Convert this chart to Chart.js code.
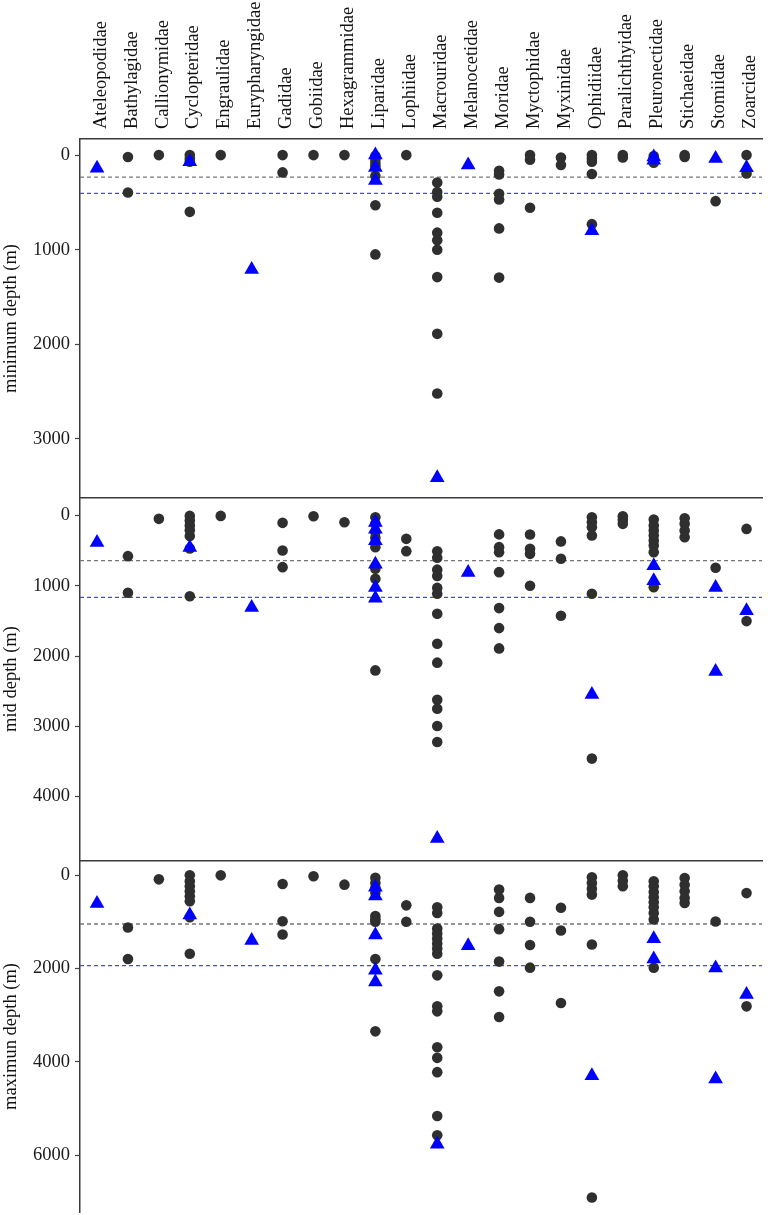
<!DOCTYPE html>
<html>
<head>
<meta charset="utf-8">
<script src="https://cdn.jsdelivr.net/npm/chart.js@4.4.1/dist/chart.umd.min.js"></script>
<style>
  body { margin: 0; background: #fff; }
  #wrap { position: relative; width: 768px; height: 1215px; overflow: hidden; }
  canvas { position: absolute; left: 0; }
</style>
</head>
<body>
<div id="wrap">
  <canvas id="minChart" width="768" height="498" style="top:0px"></canvas>
  <canvas id="midChart" width="768" height="364" style="top:496px"></canvas>
  <canvas id="maxChart" width="768" height="356" style="top:859px"></canvas>
</div>
<script>
const families = [
  'Ateleopodidae', 'Bathylagidae', 'Callionymidae', 'Cyclopteridae', 'Engraulidae',
  'Eurypharyngidae', 'Gadidae', 'Gobiidae', 'Hexagrammidae', 'Liparidae', 'Lophiidae',
  'Macrouridae', 'Melanocetidae', 'Moridae', 'Myctophidae', 'Myxinidae', 'Ophidiidae',
  'Paralichthyidae', 'Pleuronectidae', 'Stichaeidae', 'Stomiidae', 'Zoarcidae'
];

// one list of depths per family, same order as families
const minCircles = [
  [], [20, 395], [0], [0, 35, 70, 600], [0], [], [0, 183], [0], [0],
  [10, 50, 90, 120, 220, 530, 1050], [0],
  [290, 390, 440, 610, 820, 900, 1000, 1290, 1890, 2520], [],
  [165, 205, 410, 470, 775, 1295], [0, 50, 557], [25, 105], [0, 35, 70, 200, 730],
  [0, 25], [10, 40, 80], [0, 20], [487], [0, 194]
];
const minTriangles = [
  [140], [], [], [70], [], [1210], [], [], [], [0, 130, 270], [], [3410], [105],
  [], [], [], [800], [], [20, 55], [], [35], [135]
];

const midCircles = [
  [], [578, 1100], [47], [5, 70, 140, 210, 290, 470, 1150], [5], [], [104, 498, 735],
  [10], [95], [24, 118, 237, 317, 450, 758, 900, 2205], [332, 507],
  [510, 600, 770, 860, 1030, 1114, 1398, 1825, 2095, 2622, 2750, 2997, 3225], [],
  [268, 450, 522, 806, 1318, 1603, 1892], [270, 474, 545, 1000], [368, 616, 1427],
  [24, 95, 166, 284, 1114, 3461], [10, 60, 118],
  [57, 142, 213, 284, 355, 427, 522, 1020], [38, 118, 213, 308], [744], [190, 1503]
];
const midTriangles = [
  [384], [], [], [455], [], [1309], [], [], [], [100, 195, 360, 692, 1024, 1176], [],
  [4600], [811], [], [], [], [2550], [], [716, 929], [], [1024, 2219], [1356]
];

const maxCircles = [
  [], [1125, 1801], [93], [7, 135, 242, 349, 455, 562, 904, 1688], [7], [],
  [192, 990, 1275], [28], [207], [60, 170, 280, 380, 880, 950, 1000, 1800, 3350],
  [650, 1000],
  [690, 812, 1147, 1254, 1361, 1468, 1575, 1688, 2150, 2814, 2921, 3690, 3917, 4224, 5164, 5577],
  [], [313, 491, 790, 1160, 1855, 2493, 3041], [491, 1000, 1500, 1985], [700, 1190, 2742],
  [50, 171, 292, 420, 1490, 6909], [7, 121, 242],
  [135, 242, 363, 477, 584, 690, 812, 954, 1987], [64, 207, 349, 491, 598], [995], [388, 2814]
];
const maxTriangles = [
  [613], [], [], [855], [], [1404], [], [], [], [263, 449, 1285, 2040, 2290], [],
  [5770], [1517], [], [], [], [4300], [], [1368, 1801], [], [1990, 4370], [2560]
];

// dashed reference depths: [grey, blue]
const minRefs = [233, 405];
const midRefs = [642, 1164];
const maxRefs = [1050, 1940];

// y tick labels per panel
const minTicks = [0, 1000, 2000, 3000];
const midTicks = [0, 1000, 2000, 3000, 4000];
const maxTicks = [0, 2000, 4000, 6000];

const xMin = -0.55;
const xMax = 21.5;
const serif = { family: 'Liberation Serif', size: 18.5 };

function toPoints(perFamily) {
  const pts = [];
  perFamily.forEach((vals, i) => vals.forEach(v => pts.push({ x: i, y: v })));
  return pts;
}

function refLine(depth, color) {
  return {
    data: [{ x: xMin, y: depth }, { x: xMax, y: depth }],
    showLine: true,
    pointRadius: 0,
    borderColor: color,
    borderWidth: 1.3,
    borderDash: [4, 3],
    order: 10
  };
}

// keep the plot area exactly where the panel should be
function noPadding(s) {
  s.paddingTop = 0;
  s.paddingBottom = 0;
  s.paddingLeft = 0;
  s.paddingRight = 0;
}

function makePanel(id, opts) {
  const ctx = document.getElementById(id).getContext('2d');
  return new Chart(ctx, {
    type: 'scatter',
    data: {
      datasets: [
        {
          data: toPoints(opts.triangles),
          pointStyle: 'triangle',
          pointRadius: 8.5,
          backgroundColor: '#0000ff',
          borderWidth: 0,
          order: 1
        },
        {
          data: toPoints(opts.circles),
          pointStyle: 'circle',
          pointRadius: 5.3,
          backgroundColor: '#2f2f2f',
          borderWidth: 0,
          order: 2
        },
        refLine(opts.refs[0], '#767676'),
        refLine(opts.refs[1], '#4848e8')
      ]
    },
    options: {
      responsive: false,
      animation: false,
      events: [],
      layout: {
        autoPadding: false,
        padding: { left: 0, right: 6, top: 0, bottom: opts.bottomPad }
      },
      plugins: { legend: { display: false }, tooltip: { enabled: false } },
      scales: {
        x: {
          type: 'linear',
          position: 'top',
          min: xMin,
          max: xMax,
          afterBuildTicks: s => { s.ticks = families.map((f, i) => ({ value: i })); },
          afterFit: s => { s.height = opts.topHeight; noPadding(s); },
          grid: { drawOnChartArea: false, drawTicks: false },
          border: { display: true, color: '#3a3a3a', width: 1.5 },
          ticks: {
            display: opts.showNames,
            autoSkip: false,
            minRotation: 90,
            maxRotation: 90,
            padding: 10,
            labelOffset: 26,
            font: serif,
            color: '#111',
            callback: v => families[v]
          }
        },
        y: {
          reverse: true,
          min: opts.min,
          max: opts.max,
          afterBuildTicks: s => { s.ticks = opts.ticks.map(v => ({ value: v })); },
          afterFit: s => { s.width = 80; noPadding(s); },
          title: {
            display: true,
            text: opts.title,
            font: serif,
            color: '#111',
            padding: { top: 0, bottom: 0 }
          },
          grid: { drawOnChartArea: false, tickLength: 5, color: '#444', tickWidth: 1.2 },
          border: { color: '#3a3a3a', width: 1.5 },
          ticks: {
            padding: 5,
            font: serif,
            color: '#1a1a1a',
            callback: v => String(v)
          }
        }
      }
    }
  });
}

makePanel('minChart', {
  circles: minCircles, triangles: minTriangles, refs: minRefs, ticks: minTicks,
  title: 'minimum depth (m)', min: -170, max: 3625,
  showNames: true, topHeight: 139, bottomPad: 0
});
makePanel('midChart', {
  circles: midCircles, triangles: midTriangles, refs: midRefs, ticks: midTicks,
  title: 'mid depth (m)', min: -250, max: 4905,
  showNames: false, topHeight: 2, bottomPad: 0
});
makePanel('maxChart', {
  circles: maxCircles, triangles: maxTriangles, refs: maxRefs, ticks: maxTicks,
  title: 'maximun depth (m)', min: -300, max: 7220,
  showNames: false, topHeight: 2, bottomPad: 3
});
</script>
</body>
</html>
